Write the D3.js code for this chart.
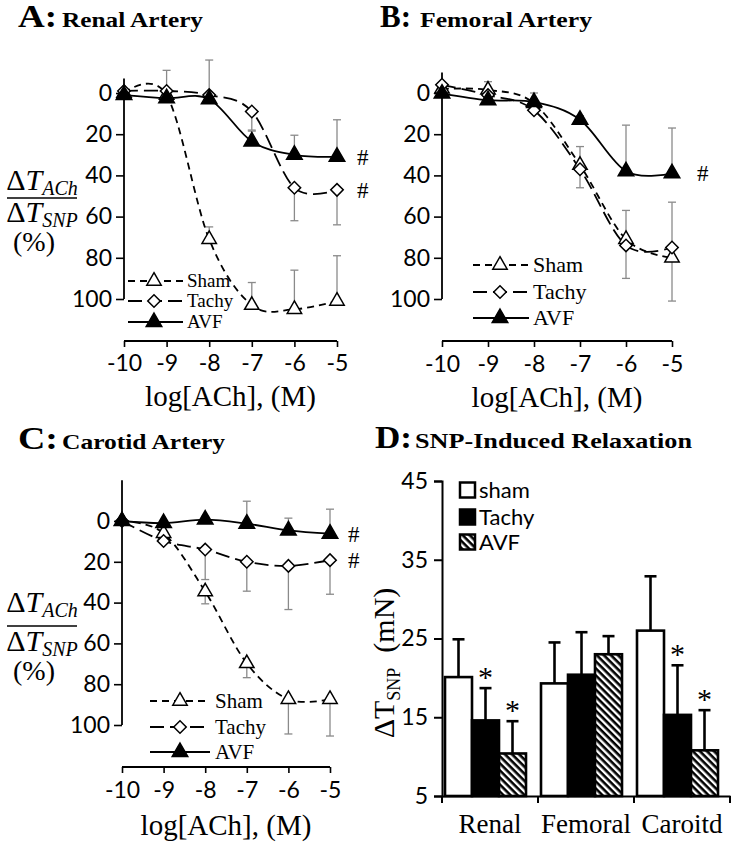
<!DOCTYPE html>
<html><head><meta charset="utf-8">
<script src="https://cdn.jsdelivr.net/npm/d3@7"></script>
<style>body{margin:0;background:#fff} svg{display:block}</style>
</head><body><svg id="c" width="731" height="842"></svg>
<script>
// ---------- DATA ----------
const xVals = [-10, -9, -8, -7, -6, -5];
const xTickLabels = ["-10", "-9", "-8", "-7", "-6", "-5"];
const yTicksLine = [0, 20, 40, 60, 80, 100];
const seriesNames = ["Sham", "Tachy", "AVF"];

// error values: negative = bar drawn toward smaller %, positive = toward larger %
const renalSham = [0, 1, 71, 103, 105, 101];
const renalShamErr = [0, 0, -6, -11, -19, -22];
const renalTachy = [-1, -1, 1, 9, 46, 47];
const renalTachyErr = [0, 0, 0, 9, 16, 17];
const renalAVF = [1, 2.5, 3, 23.5, 30, 31];
const renalAVFErr = [0, -13.5, -19, -5, -9.5, -18];

const femoralSham = [-2, -1.5, 5, 35, 71, 80];
const femoralShamErr = [0, -4, -5, -9, -14, -27];
const femoralTachy = [-4, 1, 8.4, 37, 74, 75];
const femoralTachyErr = [0, 0, 0, 9, 16, 26];
const femoralAVF = [0.3, 3.5, 4.4, 13, 38, 39];
const femoralAVFErr = [0, 0, 0, -2, -22.4, -22];

const carotidSham = [0, 6, 34.6, 69.8, 87.4, 87.4];
const carotidShamErr = [0, 0, 6, 7, 17, 18];
const carotidTachy = [0, 9.8, 14, 20, 22, 19.2];
const carotidTachyErr = [0, 0, 14.7, 14.4, 21.4, 16.7];
const carotidAVF = [0, 1, -0.7, 1.3, 4.6, 6.2];
const carotidAVFErr = [0, 0, -1.6, -11, -6, -12];

const renalHash = ["Tachy", "AVF"];
const femoralHash = ["AVF"];
const carotidHash = ["Tachy", "AVF"];

const barCategories = ["Renal", "Femoral", "Caroitd"];
const barGroups = ["sham", "Tachy", "AVF"];
const barSham = [20.1, 19.3, 26.0];
const barShamErr = [4.8, 5.2, 6.9];
const barTachy = [14.6, 20.4, 15.3];
const barTachyErr = [4.1, 5.4, 6.3];
const barAVF = [10.4, 23.0, 10.8];
const barAVFErr = [4.1, 2.3, 5.1];
const barTachyStar = [true, false, true];
const barAVFStar = [true, false, true];
const yTicksBar = [5, 15, 25, 35, 45];

// ---------- STYLE ----------
const svg = d3.select("#c");
const SERIF = "'Liberation Serif','Times New Roman',serif";
const SANS = "Lato,'Liberation Sans',sans-serif";
const curve = d3.curveCardinal.tension(0);
const seriesStyle = {
  Sham: {dash: "7,5", marker: "triOpen"},
  Tachy: {dash: "14,6", marker: "diamond"},
  AVF: {dash: null, marker: "triFill"}
};
const markerDefs = {
  triOpen: {type: d3.symbolTriangle, size: 90, fill: "#fff", rot: 0},
  diamond: {type: d3.symbolSquare, size: 78, fill: "#fff", rot: 45},
  triFill: {type: d3.symbolTriangle, size: 105, fill: "#000", rot: 0}
};
function drawMarker(g, cx, cy, kind) {
  const m = markerDefs[kind];
  g.append("path").attr("d", d3.symbol(m.type, m.size)())
    .attr("transform", `translate(${cx},${cy}) rotate(${m.rot})`)
    .attr("fill", m.fill).attr("stroke", "#000").attr("stroke-width", 1.5);
}

function title(x, y, big, bigW, small, smallX, smallW, bigFs, smallFs) {
  svg.append("text").attr("x", x).attr("y", y).attr("font-family", SERIF)
    .attr("font-weight", "bold").attr("font-size", bigFs)
    .attr("textLength", bigW).attr("lengthAdjust", "spacingAndGlyphs").text(big);
  svg.append("text").attr("x", smallX).attr("y", y).attr("font-family", SERIF)
    .attr("font-weight", "bold").attr("font-size", smallFs)
    .attr("textLength", smallW).attr("lengthAdjust", "spacingAndGlyphs").text(small);
}

function fracLabel(cx, numY, lineY, denY, pctY) {
  const mk = (yy, sub) => {
    const t = svg.append("text").attr("x", cx).attr("y", yy).attr("text-anchor", "middle")
      .attr("font-family", SERIF).attr("font-size", 30);
    t.append("tspan").text("Δ");
    t.append("tspan").attr("font-style", "italic").text("T");
    t.append("tspan").attr("font-style", "italic").attr("font-size", 20).attr("dy", 5).text(sub);
  };
  mk(numY, "ACh");
  svg.append("line").attr("x1", cx - 35).attr("x2", cx + 35).attr("y1", lineY).attr("y2", lineY)
    .attr("stroke", "#000").attr("stroke-width", 1.5);
  mk(denY, "SNP");
  svg.append("text").attr("x", cx - 8).attr("y", pctY).attr("text-anchor", "middle")
    .attr("font-family", SERIF).attr("font-size", 28).text("(%)");
}

function linePanel(p) {
  const g = svg.append("g");
  const x = d3.scaleLinear().domain([-10, -5]).range([p.x0, p.x1]);
  const y = d3.scaleLinear().domain([0, 100]).range([p.y0, p.y100]);

  // y axis
  const ya = g.append("g").attr("transform", `translate(${p.x0},0)`)
    .call(d3.axisLeft(y).tickValues(yTicksLine).tickSize(8).tickPadding(4).tickFormat(d3.format("d")));
  ya.select(".domain").remove();
  ya.selectAll("line").attr("stroke", "#000").attr("stroke-width", 1.6);
  ya.selectAll("text").attr("font-family", SANS).attr("font-size", 23).attr("fill", "#000");
  g.append("line").attr("x1", p.x0).attr("x2", p.x0).attr("y1", y(p.yTop)).attr("y2", y(100))
    .attr("stroke", "#000").attr("stroke-width", 1.8);

  // x axis
  const xa = g.append("g").attr("transform", `translate(0,${p.xAxisY})`)
    .call(d3.axisBottom(x).tickValues(xVals).tickSize(6).tickPadding(p.xPad)
      .tickFormat((d, i) => xTickLabels[i]));
  xa.select(".domain").attr("d", `M${p.x0},0H${p.x1}`).attr("stroke", "#000").attr("stroke-width", 1.8);
  xa.selectAll("line").attr("stroke", "#000").attr("stroke-width", 1.6);
  xa.selectAll("text").attr("font-family", SANS).attr("font-size", 23).attr("fill", "#000");
  g.append("text").attr("x", (p.x0 + p.x1) / 2).attr("y", p.titleY).attr("text-anchor", "middle")
    .attr("font-family", SERIF).attr("font-size", 29).text("log[ACh], (M)");

  // error bars
  p.series.forEach(s => {
    s.vals.forEach((v, i) => {
      const e = s.errs[i];
      if (!e) return;
      const cx = x(xVals[i]);
      g.append("line").attr("x1", cx).attr("x2", cx).attr("y1", y(v)).attr("y2", y(v + e))
        .attr("stroke", "#8a8a8a").attr("stroke-width", 1.3);
      g.append("line").attr("x1", cx - 4).attr("x2", cx + 4).attr("y1", y(v + e)).attr("y2", y(v + e))
        .attr("stroke", "#8a8a8a").attr("stroke-width", 1.3);
    });
  });
  // lines
  const lineGen = d3.line().x((d, i) => x(xVals[i])).y(d => y(d)).curve(curve);
  p.series.forEach(s => {
    const st = seriesStyle[s.name];
    g.append("path").attr("d", lineGen(s.vals)).attr("fill", "none").attr("stroke", "#000")
      .attr("stroke-width", 1.8).attr("stroke-dasharray", st.dash);
  });
  // markers
  p.series.forEach(s => {
    s.vals.forEach((v, i) => drawMarker(g, x(xVals[i]), y(v), seriesStyle[s.name].marker));
  });
  // hashes
  p.hash.forEach(name => {
    const s = p.series.find(d => d.name === name);
    g.append("text").attr("x", x(-5) + p.hashDx).attr("y", y(s.vals[5]) + 8)
      .attr("font-family", SERIF).attr("font-size", 23).text("#");
  });
  // legend
  const L = p.legend;
  seriesNames.forEach((name, i) => {
    const st = seriesStyle[name];
    const yy = L.ys[i];
    g.append("line").attr("x1", L.lx0).attr("x2", L.lx1).attr("y1", yy).attr("y2", yy)
      .attr("stroke", "#000").attr("stroke-width", 1.8).attr("stroke-dasharray", st.dash);
    drawMarker(g, L.mx, yy, st.marker);
    g.append("text").attr("x", L.tx).attr("y", yy + L.fs * 0.33).attr("font-family", SERIF)
      .attr("font-size", L.fs).text(name);
  });
}

// ---------- PANEL A ----------
title(18, 27, "A:", 39, "Renal Artery", 62, 141, 31, 22);
fracLabel(42, 190, 198, 222, 251);
linePanel({
  x0: 124, x1: 337, y0: 93, y100: 299, yTop: -7, xAxisY: 341, xPad: 8, titleY: 406,
  series: [
    {name: "Sham", vals: renalSham, errs: renalShamErr},
    {name: "Tachy", vals: renalTachy, errs: renalTachyErr},
    {name: "AVF", vals: renalAVF, errs: renalAVFErr}
  ],
  hash: renalHash, hashDx: 20,
  legend: {lx0: 128, lx1: 183, mx: 154, tx: 187, ys: [281, 301, 322], fs: 19}
});

// ---------- PANEL B ----------
title(380, 27, "B:", 31, "Femoral Artery", 420, 172, 31, 22);
linePanel({
  x0: 442, x1: 672, y0: 93, y100: 299, yTop: -10, xAxisY: 341, xPad: 9, titleY: 407,
  series: [
    {name: "Sham", vals: femoralSham, errs: femoralShamErr},
    {name: "Tachy", vals: femoralTachy, errs: femoralTachyErr},
    {name: "AVF", vals: femoralAVF, errs: femoralAVFErr}
  ],
  hash: femoralHash, hashDx: 25,
  legend: {lx0: 473, lx1: 529, mx: 500, tx: 533, ys: [265, 292, 318], fs: 22}
});

// ---------- PANEL C ----------
title(18, 449, "C:", 40, "Carotid Artery", 62, 163, 31, 22);
fracLabel(42, 612, 626, 651, 680);
linePanel({
  x0: 122, x1: 330, y0: 521, y100: 725, yTop: -20, xAxisY: 767, xPad: 9, titleY: 835,
  series: [
    {name: "Sham", vals: carotidSham, errs: carotidShamErr},
    {name: "Tachy", vals: carotidTachy, errs: carotidTachyErr},
    {name: "AVF", vals: carotidAVF, errs: carotidAVFErr}
  ],
  hash: carotidHash, hashDx: 18,
  legend: {lx0: 150, lx1: 210, mx: 180, tx: 215, ys: [701, 727, 752], fs: 21}
});

// ---------- PANEL D ----------
title(375, 448, "D:", 37, "SNP-Induced Relaxation", 415, 277, 31, 22);
const defs = svg.append("defs");
const pat = defs.append("pattern").attr("id", "hatch").attr("patternUnits", "userSpaceOnUse")
  .attr("width", 5).attr("height", 5).attr("patternTransform", "rotate(-45)");
pat.append("rect").attr("width", 5).attr("height", 5).attr("fill", "#000");
pat.append("rect").attr("width", 2.4).attr("height", 5).attr("fill", "#fff");

const gd = svg.append("g");
const xb = d3.scaleBand().domain(barCategories).range([442, 730]);
const xs = d3.scaleBand().domain(barGroups).range([3, 84]);
const yb = d3.scaleLinear().domain([5, 45]).range([796, 481]);
const fills = {sham: "#fff", Tachy: "#000", AVF: "url(#hatch)"};
const barVals = {sham: barSham, Tachy: barTachy, AVF: barAVF};
const barErrs = {sham: barShamErr, Tachy: barTachyErr, AVF: barAVFErr};
const barStars = {sham: [false, false, false], Tachy: barTachyStar, AVF: barAVFStar};

const yda = gd.append("g").attr("transform", "translate(442,0)")
  .call(d3.axisLeft(yb).tickValues(yTicksBar).tickSize(8).tickPadding(6));
yda.select(".domain").attr("stroke", "#000").attr("stroke-width", 2);
yda.selectAll("line").attr("stroke", "#000").attr("stroke-width", 2);
yda.selectAll("text").attr("font-family", SANS).attr("font-size", 23).attr("fill", "#000");

barGroups.forEach(grp => {
  barCategories.forEach((cat, i) => {
    const v = barVals[grp][i], e = barErrs[grp][i];
    const bx = xb(cat) + xs(grp), bw = xs.bandwidth();
    const cx = bx + bw / 2;
    gd.append("line").attr("x1", cx).attr("x2", cx).attr("y1", yb(v)).attr("y2", yb(v + e))
      .attr("stroke", "#000").attr("stroke-width", 2.6);
    gd.append("line").attr("x1", cx - 6).attr("x2", cx + 6).attr("y1", yb(v + e)).attr("y2", yb(v + e))
      .attr("stroke", "#000").attr("stroke-width", 2.6);
    gd.append("rect").attr("x", bx).attr("y", yb(v)).attr("width", bw).attr("height", yb(5) - yb(v))
      .attr("fill", fills[grp]).attr("stroke", "#000").attr("stroke-width", 2.6);
    if (barStars[grp][i]) {
      gd.append("text").attr("x", cx).attr("y", yb(v + e) - 1).attr("text-anchor", "middle")
        .attr("font-family", SERIF).attr("font-size", 30).text("*");
    }
  });
});

const xda = gd.append("g").attr("transform", "translate(0,796)")
  .call(d3.axisBottom(xb).tickSize(0).tickPadding(18));
xda.select(".domain").attr("stroke", "#000").attr("stroke-width", 2);
xda.selectAll("text").attr("font-family", SERIF).attr("font-size", 27).attr("fill", "#000");
barCategories.concat(["end"]).forEach((cat, i) => {
  const tx = i < barCategories.length ? xb(cat) : xb.range()[1];
  gd.append("line").attr("x1", tx).attr("x2", tx).attr("y1", 796).attr("y2", 803)
    .attr("stroke", "#000").attr("stroke-width", 2);
});

// y label D
const yl = gd.append("text").attr("transform", "translate(394,663) rotate(-90)")
  .attr("text-anchor", "middle").attr("font-family", SERIF).attr("font-size", 30);
yl.append("tspan").text("ΔT");
yl.append("tspan").attr("font-size", 18).attr("dy", 6).text("SNP");
yl.append("tspan").attr("dy", -6).text("\u00a0 (mN)");

// legend D
barGroups.forEach((grp, i) => {
  const cy = [490, 517, 542][i];
  gd.append("rect").attr("x", 460).attr("y", cy - 7.5).attr("width", 15).attr("height", 15)
    .attr("fill", fills[grp]).attr("stroke", "#000").attr("stroke-width", 2.5);
  gd.append("text").attr("x", 479).attr("y", cy + 7.5).attr("font-family", SANS)
    .attr("font-size", 22).text(grp);
});
</script></body></html>
